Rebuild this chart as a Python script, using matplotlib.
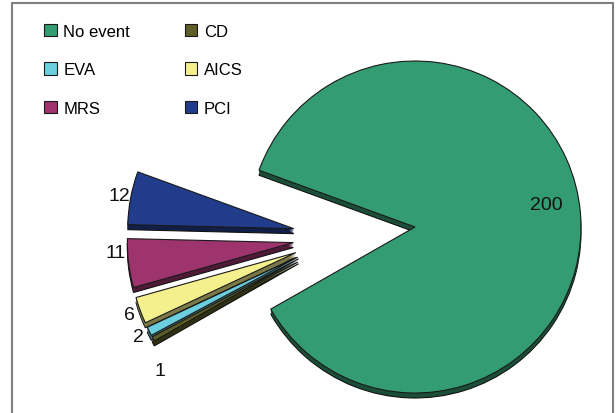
import numpy as np
import matplotlib.pyplot as plt
from matplotlib.patches import Rectangle
from matplotlib.colors import to_rgb

plt.rcParams['font.family'] = ['Liberation Sans', 'DejaVu Sans']

# data
labels = ['No event', 'CD', 'EVA', 'AICS', 'MRS', 'PCI']
counts = [200, 1, 2, 6, 11, 12]
colors = ['#349c72', '#5e5e26', '#6ccfdf', '#f4f08e', '#9e346e', '#213c8a']

W, H = 616, 414
fig = plt.figure(figsize=(W / 100, H / 100), dpi=100)
ax = fig.add_axes([0, 0, 1, 1])

# pie geometry in pixel units
cx, cy, R = 415, H - 228, 166
explode = [0] + [45] * 5
shift = (-77, -10)      # extra pull of the small slices to the left
depth = 5


def darker(c, f=0.5):
    return tuple(v * f for v in to_rgb(c))


def draw(offset, cols, ec, lw, z):
    wedges, _ = ax.pie(counts, explode=explode, colors=cols, startangle=160,
                       counterclock=False, radius=R, center=(cx, cy - offset),
                       frame=True,
                       wedgeprops=dict(edgecolor=ec, linewidth=lw, zorder=z))
    for w in wedges[1:]:
        x, y = w.center
        w.set_center((x + shift[0], y + shift[1]))
    return wedges


# 3d side of the slices
dark = [darker(c) for c in colors]
draw(depth, dark, '#111111', 0.8, 1)
for d in range(depth - 1, 0, -1):
    draw(d, dark, 'none', 0, 1)
wedges = draw(0, colors, '#1a1a1a', 0.8, 2)

ax.set_xlim(0, W)
ax.set_ylim(0, H)
ax.axis('off')

# value labels
nudge = [5, 10, 0, 0, -4, 0]
dist = [0.8] + [1.07] * 5
for w, n, d, nd in zip(wedges, counts, dist, nudge):
    a = np.deg2rad((w.theta1 + w.theta2) / 2 + nd)
    x, y = w.center
    ax.text(x + d * R * np.cos(a), y + d * R * np.sin(a), str(n),
            ha='center', va='center', fontsize=14, color='#111111', zorder=5)

# legend, row by row like the original
order = [0, 2, 4, 1, 3, 5]
ax.legend([wedges[i] for i in order], [labels[i] for i in order], ncol=2,
          loc='upper left', bbox_to_anchor=(44 / W, 1 - 25 / H),
          bbox_transform=fig.transFigure, frameon=False, fontsize=12,
          handlelength=0.75, handleheight=0.75, handletextpad=0.4,
          labelspacing=1.4, columnspacing=3.3, borderpad=0, borderaxespad=0)

# chart border
fig.add_artist(Rectangle((12 / W, -0.05), (613 - 12) / W, 1 - 4 / H + 0.05,
                         transform=fig.transFigure, fill=False,
                         edgecolor='#808080', linewidth=1.5))

fig.savefig('out.png', dpi=100)
